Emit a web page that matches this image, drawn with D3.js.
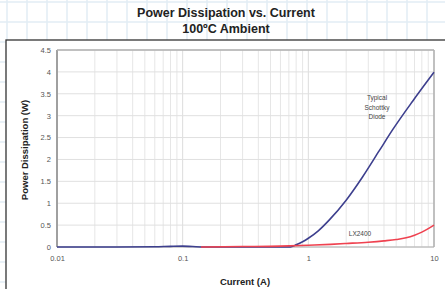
<!DOCTYPE html>
<html><head><meta charset="utf-8">
<script src="https://cdn.jsdelivr.net/npm/d3@7"></script>
<style>body{margin:0;background:#fff}svg{display:block}</style>
</head><body>
<script>
// Data
const xTicks = [0.01, 0.1, 1, 10];
const xTickLabels = ["0.01", "0.1", "1", "10"];
const yTicks = [0, 0.5, 1, 1.5, 2, 2.5, 3, 3.5, 4, 4.5];
const yTickLabels = ["0", "0.5", "1", "1.5", "2", "2.5", "3", "3.5", "4", "4.5"];
const schottkyCurrent = [0.01, 0.03, 0.06, 0.08, 0.1, 0.12, 0.15, 0.3, 0.5, 0.72, 0.8, 0.9, 1.0, 1.2, 1.47, 2.0, 2.7, 3.67, 4.69, 6.76, 10.0];
const schottkyPower   = [0, 0, 0.005, 0.015, 0.02, 0.01, 0, 0, 0, 0, 0.05, 0.12, 0.2, 0.37, 0.62, 1.07, 1.6, 2.2, 2.68, 3.33, 3.99];
const lxCurrent = [0.14, 0.3, 0.6, 1.0, 1.5, 2.0, 3.0, 4.0, 5.0, 6.0, 7.0, 8.0, 9.0, 10.0];
const lxPower   = [0, 0.01, 0.02, 0.04, 0.06, 0.08, 0.11, 0.14, 0.17, 0.21, 0.27, 0.34, 0.42, 0.5];
const titleLines = ["Power Dissipation vs. Current", "100ºC Ambient"];
const xLabel = "Current (A)";
const yLabel = "Power Dissipation (W)";

(function () {
const W = 445, H = 289;
const svg = d3.select("body").append("svg").attr("width", W).attr("height", H);

// graph paper background
const paper = svg.append("g");
for (let gx = 7; gx < W; gx += 20) paper.append("line").attr("x1", gx).attr("x2", gx).attr("y1", 0).attr("y2", H).attr("stroke", "#e2ecf5").attr("stroke-width", 1.5);
for (let gy = 2; gy < H; gy += 20) paper.append("line").attr("x1", 0).attr("x2", W).attr("y1", gy).attr("y2", gy).attr("stroke", "#e2ecf5").attr("stroke-width", 1.5);

// white chart box
svg.append("rect").attr("x", 6).attr("y", 40).attr("width", W + 10).attr("height", H)
  .attr("fill", "#fff").attr("stroke", "#333").attr("stroke-width", 1.3);

// title
const font = "Liberation Sans, Arial, sans-serif";
svg.append("text").attr("x", 226).attr("y", 17).attr("text-anchor", "middle")
  .attr("font-family", font).attr("font-weight", "bold").attr("font-size", 12.5).attr("fill", "#222").text(titleLines[0]);
svg.append("text").attr("x", 226).attr("y", 33).attr("text-anchor", "middle")
  .attr("font-family", font).attr("font-weight", "bold").attr("font-size", 12.5).attr("fill", "#222").text(titleLines[1]);

const pL = 57, pR = 434, pT = 50, pB = 247;
const x = d3.scaleLog().domain([0.01, 10]).range([pL, pR]);
const y = d3.scaleLinear().domain([0, 4.5]).range([pB, pT]);

// grid
const grid = svg.append("g");
const minor = [];
[0.01, 0.1, 1].forEach(d => { for (let k = 2; k <= 9; k++) minor.push(d * k); });
grid.selectAll(".vm").data(minor).enter().append("line")
  .attr("x1", d => x(d)).attr("x2", d => x(d)).attr("y1", pT).attr("y2", pB)
  .attr("stroke", "#e6e6e6").attr("stroke-width", 1);
grid.selectAll(".vM").data(xTicks).enter().append("line")
  .attr("x1", d => x(d)).attr("x2", d => x(d)).attr("y1", pT).attr("y2", pB)
  .attr("stroke", "#dcdcdc").attr("stroke-width", 1);
grid.selectAll(".h").data(yTicks).enter().append("line")
  .attr("x1", pL).attr("x2", pR).attr("y1", d => y(d)).attr("y2", d => y(d))
  .attr("stroke", "#e0e0e0").attr("stroke-width", 1);

// frame
svg.append("line").attr("x1", pL).attr("x2", pL).attr("y1", pT).attr("y2", pB).attr("stroke", "#a0a0a0").attr("stroke-width", 2);
svg.append("line").attr("x1", pR).attr("x2", pR).attr("y1", pT).attr("y2", pB).attr("stroke", "#b0b0b0").attr("stroke-width", 1.5);
svg.append("line").attr("x1", pL).attr("x2", pR).attr("y1", pT).attr("y2", pT).attr("stroke", "#b0b0b0").attr("stroke-width", 1.5);
svg.append("line").attr("x1", pL).attr("x2", pR).attr("y1", pB).attr("y2", pB).attr("stroke", "#b0b0b0").attr("stroke-width", 1);

// axes labels (ticks via d3 axis)
const yAxis = d3.axisLeft(y).tickValues(yTicks).tickFormat((d, i) => yTickLabels[i]).tickSize(0).tickPadding(6);
const gY = svg.append("g").attr("transform", `translate(${pL},0)`).call(yAxis);
gY.select(".domain").remove();
gY.selectAll("text").attr("font-family", font).attr("font-size", 7.5).attr("fill", "#555");

const xAxis = d3.axisBottom(x).tickValues(xTicks).tickFormat((d, i) => xTickLabels[i]).tickSize(0).tickPadding(9);
const gX = svg.append("g").attr("transform", `translate(0,${pB})`).call(xAxis);
gX.select(".domain").remove();
gX.selectAll("text").attr("font-family", font).attr("font-size", 7.5).attr("fill", "#555");

svg.append("text").attr("x", 245).attr("y", 285).attr("text-anchor", "middle")
  .attr("font-family", font).attr("font-weight", "bold").attr("font-size", 9.5).attr("fill", "#222").text(xLabel);
svg.append("text").attr("transform", "translate(28,150) rotate(-90)").attr("text-anchor", "middle")
  .attr("font-family", font).attr("font-weight", "bold").attr("font-size", 9.5).attr("fill", "#222").text(yLabel);

// lines
const line = d3.line().x(d => x(d[0])).y(d => y(d[1])).curve(d3.curveMonotoneX);
svg.append("path").datum(schottkyCurrent.map((c, i) => [c, schottkyPower[i]]))
  .attr("d", line).attr("fill", "none").attr("stroke", "#3d3f8e").attr("stroke-width", 1.6);
svg.append("path").datum(lxCurrent.map((c, i) => [c, lxPower[i]]))
  .attr("d", line).attr("fill", "none").attr("stroke", "#ef4250").attr("stroke-width", 1.6);

// annotations
const ann = svg.append("g").attr("font-family", font).attr("font-size", 6.5).attr("fill", "#444").attr("text-anchor", "middle");
["Typical", "Schottky", "Diode"].forEach((t, i) => ann.append("text").attr("x", 377).attr("y", 100 + i * 9.5).text(t));
ann.append("text").attr("x", 360).attr("y", 236).text("LX2400");
})();
</script>
</body></html>
